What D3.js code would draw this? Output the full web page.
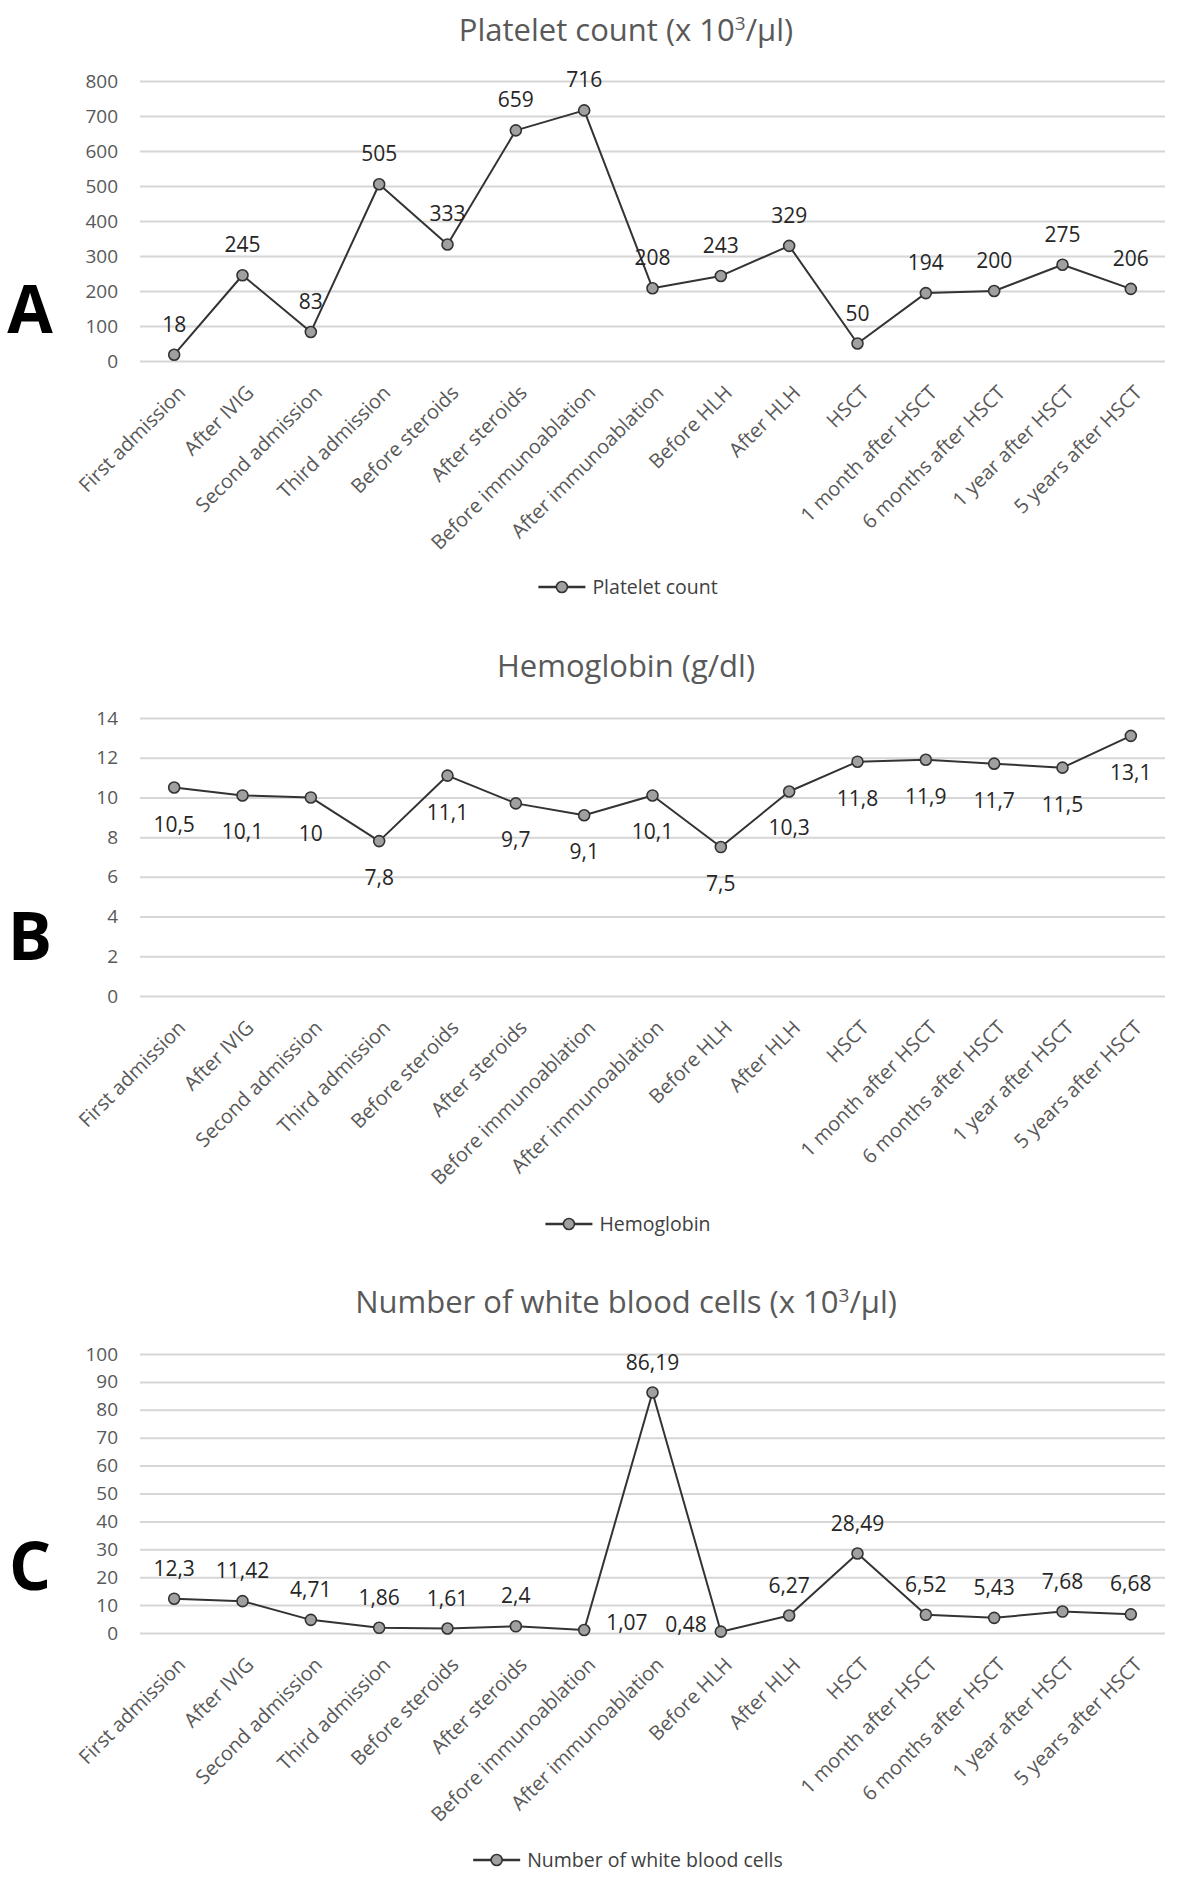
<!DOCTYPE html>
<html>
<head>
<meta charset="utf-8">
<script src="https://cdn.jsdelivr.net/npm/d3@7"></script>
<style>
  html, body { margin: 0; padding: 0; background: #ffffff; }
  svg { display: block; }
  text { font-family: "Open Sans", "DejaVu Sans", sans-serif; }
</style>
</head>
<body>
<svg id="chart" width="1181" height="1883"></svg>
<script>
// ---------- DATA ----------
const categories = [
  "First admission", "After IVIG", "Second admission", "Third admission",
  "Before steroids", "After steroids", "Before immunoablation", "After immunoablation",
  "Before HLH", "After HLH", "HSCT", "1 month after HSCT",
  "6 months after HSCT", "1 year after HSCT", "5 years after HSCT"
];
const plateletValues = [18, 245, 83, 505, 333, 659, 716, 208, 243, 329, 50, 194, 200, 275, 206];
const hemoglobinValues = [10.5, 10.1, 10, 7.8, 11.1, 9.7, 9.1, 10.1, 7.5, 10.3, 11.8, 11.9, 11.7, 11.5, 13.1];
const wbcValues = [12.3, 11.42, 4.71, 1.86, 1.61, 2.4, 1.07, 86.19, 0.48, 6.27, 28.49, 6.52, 5.43, 7.68, 6.68];

const plateletTicks = [0, 100, 200, 300, 400, 500, 600, 700, 800];
const hemoglobinTicks = [0, 2, 4, 6, 8, 10, 12, 14];
const wbcTicks = [0, 10, 20, 30, 40, 50, 60, 70, 80, 90, 100];

const seriesNames = ["Platelet count", "Hemoglobin", "Number of white blood cells"];
const panelLetters = ["A", "B", "C"];

// ---------- DRAWING ----------
const svg = d3.select("#chart");
const X_LEFT = 140, X_RIGHT = 1165, CENTER_X = 626;

const x = d3.scalePoint().domain(categories).range([X_LEFT, X_RIGHT]).padding(0.5);
const fmt = v => String(v).replace(".", ",");

function drawPanel(cfg) {
  const g = svg.append("g");
  const y = d3.scaleLinear().domain([cfg.ticks[0], cfg.ticks[cfg.ticks.length - 1]])
    .range([cfg.y0, cfg.yTop]);

  // title
  const t = g.append("text")
    .attr("x", CENTER_X).attr("y", cfg.titleY)
    .attr("text-anchor", "middle")
    .attr("font-size", 31).attr("fill", "#595959");
  t.append("tspan").text(cfg.titleMain);
  if (cfg.titleSup) {
    t.append("tspan").attr("font-size", 19).attr("dy", -11).text("3");
    t.append("tspan").attr("dy", 11).text("/µl)");
  }

  // panel letter
  g.append("text").attr("x", 30).attr("y", cfg.letterY)
    .attr("text-anchor", "middle").attr("font-size", 66).attr("font-weight", 700)
    .attr("fill", "#000").text(cfg.letter);

  // y axis (gridlines + labels)
  const yAxis = d3.axisLeft(y).tickValues(cfg.ticks).tickSize(-(X_RIGHT - X_LEFT)).tickPadding(22)
    .tickFormat(d => d);
  const ya = g.append("g").attr("transform", `translate(${X_LEFT},0)`).call(yAxis);
  ya.select(".domain").remove();
  ya.selectAll(".tick line").attr("stroke", "#d6d6d6").attr("stroke-width", 2);
  ya.selectAll(".tick text").attr("font-size", 19).attr("fill", "#595959")
    .attr("font-family", "Open Sans, DejaVu Sans, sans-serif");

  // x axis labels
  const xAxis = d3.axisBottom(x).tickSize(0).tickPadding(0);
  const xa = g.append("g").attr("transform", `translate(0,${cfg.y0})`).call(xAxis);
  xa.select(".domain").remove();
  xa.selectAll(".tick text")
    .attr("font-size", 20).attr("fill", "#595959")
    .attr("font-family", "Open Sans, DejaVu Sans, sans-serif")
    .attr("text-anchor", "end")
    .attr("dy", 0).attr("y", 0)
    .attr("transform", "translate(12,33) rotate(-45)");

  // line
  const line = d3.line().x((d, i) => x(categories[i])).y(d => y(d));
  g.append("path").datum(cfg.values).attr("d", line)
    .attr("fill", "none").attr("stroke", "#333333").attr("stroke-width", 2)
    .attr("stroke-linejoin", "round");

  // markers
  g.selectAll("circle.m").data(cfg.values).join("circle").attr("class", "m")
    .attr("cx", (d, i) => x(categories[i])).attr("cy", d => y(d)).attr("r", 5.5)
    .attr("fill", "#a0a0a0").attr("stroke", "#333333").attr("stroke-width", 1.6);

  // data labels
  g.selectAll("text.dl").data(cfg.values).join("text").attr("class", "dl")
    .attr("font-size", 21).attr("fill", "#262626")
    .each(function (d, i) {
      const pos = cfg.labelPos(i);
      const px = x(categories[i]), py = y(d);
      const s = d3.select(this).text(fmt(d));
      if (pos === "below") s.attr("x", px).attr("y", py + 44).attr("text-anchor", "middle");
      else if (pos === "right") s.attr("x", px + 22).attr("y", py).attr("text-anchor", "start");
      else if (pos === "left") s.attr("x", px - 14).attr("y", py).attr("text-anchor", "end");
      else s.attr("x", px).attr("y", py - 23).attr("text-anchor", "middle");
    });

  // legend
  const lg = g.append("g");
  const lt = lg.append("text").attr("font-size", 19.5).attr("fill", "#404040")
    .attr("y", cfg.legendY + 7).text(cfg.name);
  const tw = lt.node().getComputedTextLength();
  const total = 47 + 7 + tw;
  const lx = CENTER_X + 2 - total / 2;
  lg.append("line").attr("x1", lx).attr("x2", lx + 47).attr("y1", cfg.legendY).attr("y2", cfg.legendY)
    .attr("stroke", "#333333").attr("stroke-width", 2.5);
  lg.append("circle").attr("cx", lx + 23.5).attr("cy", cfg.legendY).attr("r", 5.5)
    .attr("fill", "#a0a0a0").attr("stroke", "#333333").attr("stroke-width", 1.6);
  lt.attr("x", lx + 54);
}

drawPanel({
  letter: panelLetters[0], name: seriesNames[0], values: plateletValues, ticks: plateletTicks,
  titleMain: "Platelet count (x 10", titleSup: true, titleY: 41,
  y0: 361, yTop: 81, letterY: 333, legendY: 587,
  labelPos: () => "above"
});

drawPanel({
  letter: panelLetters[1], name: seriesNames[1], values: hemoglobinValues, ticks: hemoglobinTicks,
  titleMain: "Hemoglobin (g/dl)", titleSup: false, titleY: 677,
  y0: 996, yTop: 718, letterY: 960, legendY: 1224,
  labelPos: () => "below"
});

drawPanel({
  letter: panelLetters[2], name: seriesNames[2], values: wbcValues, ticks: wbcTicks,
  titleMain: "Number of white blood cells (x 10", titleSup: true, titleY: 1313,
  y0: 1633, yTop: 1354, letterY: 1590, legendY: 1860,
  labelPos: i => (i === 6 ? "right" : i === 8 ? "left" : "above")
});
</script>
</body>
</html>
